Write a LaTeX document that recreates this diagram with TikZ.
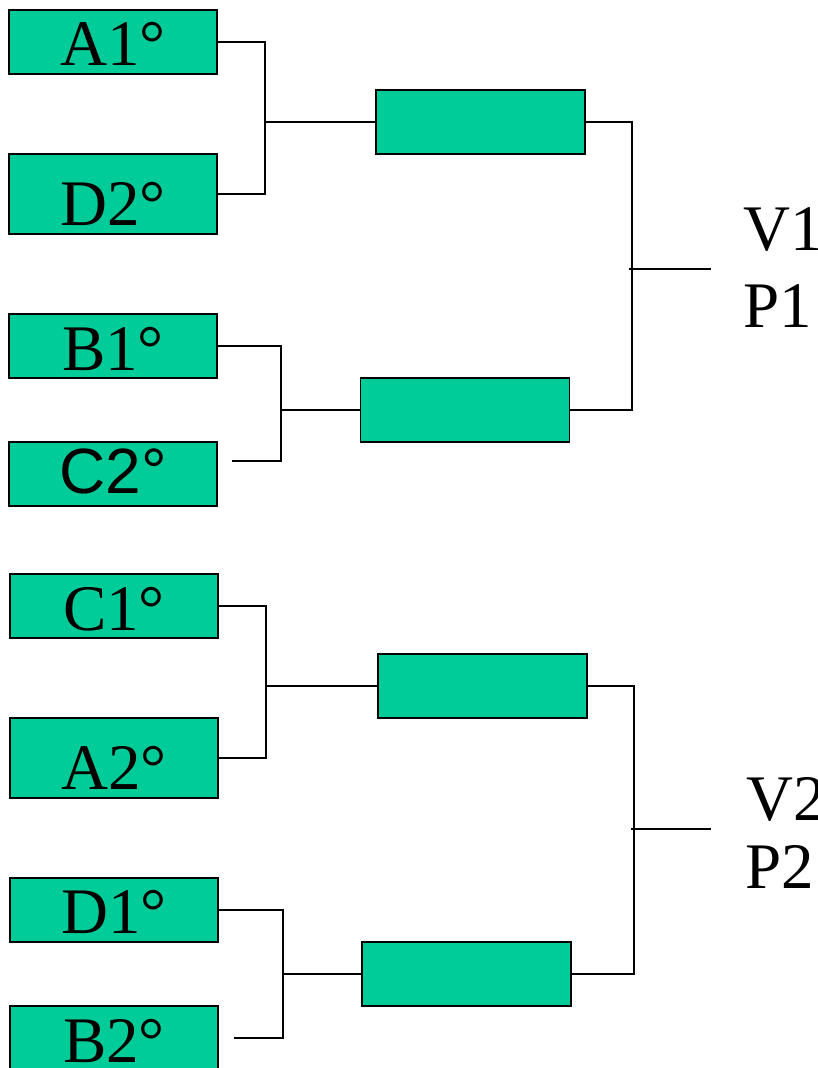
\documentclass[tikz,border=0pt]{standalone}
\usepackage{fontspec}
\setmainfont{Liberation Serif}
\newfontfamily\arialfont{Liberation Sans}
\definecolor{boxgreen}{RGB}{0,204,153}
\begin{document}
\begin{tikzpicture}[x=1pt,y=-1pt,
  team/.style={draw=black,line width=1.8pt,fill=boxgreen,rectangle,inner sep=0pt,minimum width=208pt,minimum height=64pt},
  tall/.style={team,minimum height=80pt},
  match/.style={team,minimum width=209pt},
  lbl/.style={anchor=base,inner sep=0pt,font=\fontsize{65}{70}\selectfont},
  albl/.style={anchor=base,inner sep=0pt,font=\arialfont\fontsize{64}{70}\selectfont},
  side/.style={anchor=base west,inner sep=0pt,font=\fontsize{65}{70}\selectfont},
  conn/.style={draw=black,line width=1.5pt}]
\useasboundingbox (0,0) rectangle (817,1068);
% group 1
\node[team] (A1) at (113,42) {};
\node[tall] (D2) at (113,194) {};
\node[team] (B1) at (113,346) {};
\node[team] (C2) at (113,474) {};
\node[match] (M1) at (480.5,122) {};
\node[match] (M2) at (465,410) {};
\node[lbl] (tA1) at (113,65) {A1°};
\node[lbl] (tD2) at (113,225) {D2°};
\node[lbl] (tB1) at (113,370) {B1°};
\node[albl] (tC2) at (113,493) {C2°};
\coordinate (j1) at (265,122);
\coordinate (j2) at (281,410);
\coordinate (c2end) at (232,461);
\coordinate (k1) at (632,269);
\coordinate (k1s) at (629,269);
\coordinate (k1e) at (711,269);
\draw[conn] (A1.east) -| (j1) |- (D2.east);
\draw[conn] (j1) -- (M1.west);
\draw[conn] (B1.east) -| (j2) |- (c2end);
\draw[conn] (j2) -- (M2.west);
\draw[conn] (M1.east) -| (k1) |- (M2.east);
\draw[conn] (k1s) -- (k1e);
\node[side] (V1) at (743,250) {V1};
\node[side] (P1) at (743,327) {P1};
% group 2
\node[team] (C1) at (114,606) {};
\node[tall] (A2) at (114,758) {};
\node[team] (D1) at (114,910) {};
\node[team] (B2) at (114,1038) {};
\node[match] (M3) at (482.5,686) {};
\node[match] (M4) at (466.5,974) {};
\node[lbl] (tC1) at (114,630) {C1°};
\node[lbl] (tA2) at (114,789) {A2°};
\node[lbl] (tD1) at (114,933) {D1°};
\node[lbl] (tB2) at (114,1062) {B2°};
\coordinate (j3) at (266,686);
\coordinate (j4) at (283,974);
\coordinate (b2end) at (234,1038);
\coordinate (k2) at (634,829);
\coordinate (k2s) at (631,829);
\coordinate (k2e) at (711,829);
\draw[conn] (C1.east) -| (j3) |- (A2.east);
\draw[conn] (j3) -- (M3.west);
\draw[conn] (D1.east) -| (j4) |- (b2end);
\draw[conn] (j4) -- (M4.west);
\draw[conn] (M3.east) -| (k2) |- (M4.east);
\draw[conn] (k2s) -- (k2e);
\node[side] (V2) at (746,820) {V2};
\node[side] (P2) at (745,888) {P2};
\end{tikzpicture}
\end{document}
